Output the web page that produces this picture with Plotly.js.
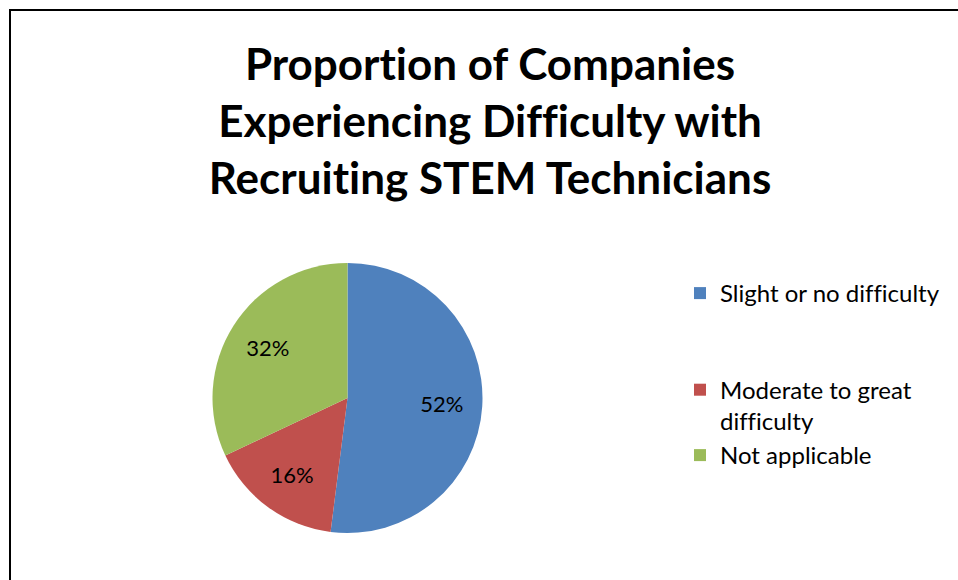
<!DOCTYPE html>
<html>
<head>
<meta charset="utf-8">
<script src="https://cdn.plot.ly/plotly-3.0.1.min.js"></script>
<style>
  html, body { margin: 0; padding: 0; background: #fff; overflow: hidden; }
  #chart { position: absolute; left: 0; top: 0; width: 958px; height: 580px; }
  #chart text { font-variant-ligatures: none; font-feature-settings: "liga" 0, "clig" 0; }
  #frame { position: absolute; left: 9px; top: 9px; width: 1000px; height: 1000px;
           border-left: 2px solid #000; border-top: 2px solid #000; pointer-events: none; }
</style>
</head>
<body>
<div id="chart"></div>
<div id="frame"></div>
<script>
const categories = ["Slight or no difficulty", "Moderate to great<br>difficulty", "Not applicable"];
const values = [52, 16, 32];
const colors = ["#4F81BD", "#C0504D", "#9BBB59"];
const chartTitle = "Proportion of Companies<br>Experiencing Difficulty with<br>Recruiting STEM Technicians";

const W = 958, H = 580;
const cx = 347.5, cy = 398, r = 135;
const FONT = "Lato, 'Open Sans', sans-serif";
const domain = { x: [(cx - r) / W, (cx + r) / W], y: [1 - (cy + r) / H, 1 - (cy - r) / H] };

// legend labels: pad the single-line first entry with blank lines so the spacing follows the reference
const legendLabels = categories.map((c, i) => i === 0 ? c + "<br>\u00a0<br>\u00a0" : c);

const pieTrace = {
  type: "pie",
  labels: legendLabels,
  values: values,
  sort: false,
  direction: "clockwise",
  rotation: 0,
  marker: { colors: colors, line: { color: "#ffffff", width: 0 } },
  textinfo: "none",
  hoverinfo: "none",
  domain: domain
};

// transparent ring carrying the percentage labels, placed further out like the reference
const labelTrace = {
  type: "pie",
  labels: legendLabels,
  values: values,
  sort: false,
  direction: "clockwise",
  rotation: 0,
  hole: 0.4,
  showlegend: false,
  marker: { colors: ["rgba(0,0,0,0)", "rgba(0,0,0,0)", "rgba(0,0,0,0)"], line: { width: 0 } },
  texttemplate: "%{percent:.0%}",
  textposition: "inside",
  insidetextorientation: "horizontal",
  textfont: { family: FONT, size: 22, color: "#000" },
  hoverinfo: "none",
  domain: domain
};

const layout = {
  width: W, height: H,
  margin: { l: 0, r: 0, t: 0, b: 0 },
  paper_bgcolor: "#ffffff",
  font: { family: FONT, color: "#000" },
  title: {
    text: "<b>" + chartTitle + "</b>",
    font: { family: FONT, size: 44, color: "#000" },
    x: 490 / W, xanchor: "center",
    y: 1 - 80 / H, yanchor: "top", yref: "container"
  },
  showlegend: true,
  legend: {
    x: 680 / W, xanchor: "left",
    y: 1 - 271 / H, yanchor: "top",
    valign: "top",
    font: { family: FONT, size: 24, color: "#000" },
    bgcolor: "rgba(0,0,0,0)"
  }
};

Plotly.newPlot("chart", [pieTrace, labelTrace], layout, { displayModeBar: false, staticPlot: true });
</script>
</body>
</html>
